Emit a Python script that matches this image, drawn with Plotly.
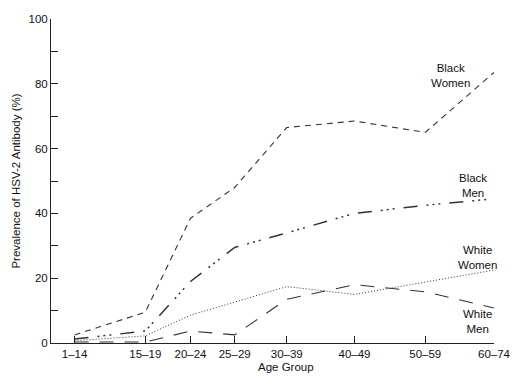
import plotly.graph_objects as go

age_groups = ["1–14", "15–19", "20–24", "25–29", "30–39", "40–49", "50–59", "60–74"]
# horizontal placement of each age group on the (unevenly spaced) axis
age_axis_pos = [0, 72, 118, 163, 216, 285, 357, 427]

black_women = [2.5, 9.5, 38.5, 48, 66.5, 68.5, 65, 83.5]
black_men = [1.2, 3.7, 19, 29.5, 34, 40, 42.5, 44.5]
white_women = [0.7, 2.2, 8.6, 12.6, 17.4, 15, 18.8, 22.5]
white_men = [0.3, 0.3, 3.7, 2.5, 13.5, 18, 15.8, 10.8]

series = [
    ("Black Women", black_women, "6px,5px", 1.1),
    ("Black Men", black_men, "14px,9px,2px,4px,2px,4px,2px,9px", 1.5),
    ("White Women", white_women, "1px,2px", 1.0),
    ("White Men", white_men, "14px,11px", 1.1),
]

FONT = "Liberation Sans, Arial, Helvetica, sans-serif"
fig = go.Figure()
for name, vals, dash, w in series:
    fig.add_trace(go.Scatter(
        x=age_axis_pos, y=vals, mode="lines", name=name,
        line=dict(color="#333333", width=w, dash=dash),
        showlegend=False, hoverinfo="skip",
    ))

# label positions expressed in data units (x along age axis, y in %)
label_data = [
    ("Black<br>Women", 383, 82.5),
    ("Black<br>Men", 406, 48.5),
    ("White<br>Women", 410, 26.5),
    ("White<br>Men", 410, 6.5),
]
annotations = []
for txt, xv, yv in label_data:
    annotations.append(dict(x=xv, y=yv, xref="x", yref="y", text=txt, showarrow=False,
                            font=dict(family=FONT, size=11.5, color="#111"), align="center"))

annotations.append(dict(x=0.53, y=-0.05, xref="paper", yref="paper", text="Age Group",
                        showarrow=False, xanchor="center", yanchor="top",
                        font=dict(family=FONT, size=11.5, color="#111")))
annotations.append(dict(x=-0.08, y=0.5, xref="paper", yref="paper",
                        text="Prevalence of HSV-2 Antibody (%)", textangle=-90,
                        showarrow=False, xanchor="center", yanchor="middle",
                        font=dict(family=FONT, size=11.5, color="#111")))

fig.update_layout(
    width=523, height=376,
    margin=dict(l=51, r=21, t=19, b=33),
    paper_bgcolor="white", plot_bgcolor="white",
    font=dict(family=FONT, size=11.5, color="#111"),
    annotations=annotations,
)
fig.update_xaxes(
    range=[-24, 427], tickvals=age_axis_pos, ticktext=age_groups,
    showgrid=False, zeroline=False, showline=True, linecolor="#222", linewidth=1,
    ticks="inside", ticklen=7, tickcolor="#222", tickwidth=1,
    tickfont=dict(family=FONT, size=11.5, color="#111"),
)
fig.update_yaxes(
    range=[0, 100], tickvals=[0, 20, 40, 60, 80, 100],
    showgrid=False, zeroline=False, showline=True, linecolor="#222", linewidth=1,
    ticks="inside", ticklen=7, tickcolor="#222", tickwidth=1,
    minor=dict(tickvals=[10, 30, 50, 70, 90], ticks="inside", ticklen=7, tickcolor="#222", tickwidth=1),
    tickfont=dict(family=FONT, size=11.5, color="#111"),
)
fig.write_html("out.html", config={"displayModeBar": False},
               post_script="document.body.style.margin='0';document.body.style.overflow='hidden';")
